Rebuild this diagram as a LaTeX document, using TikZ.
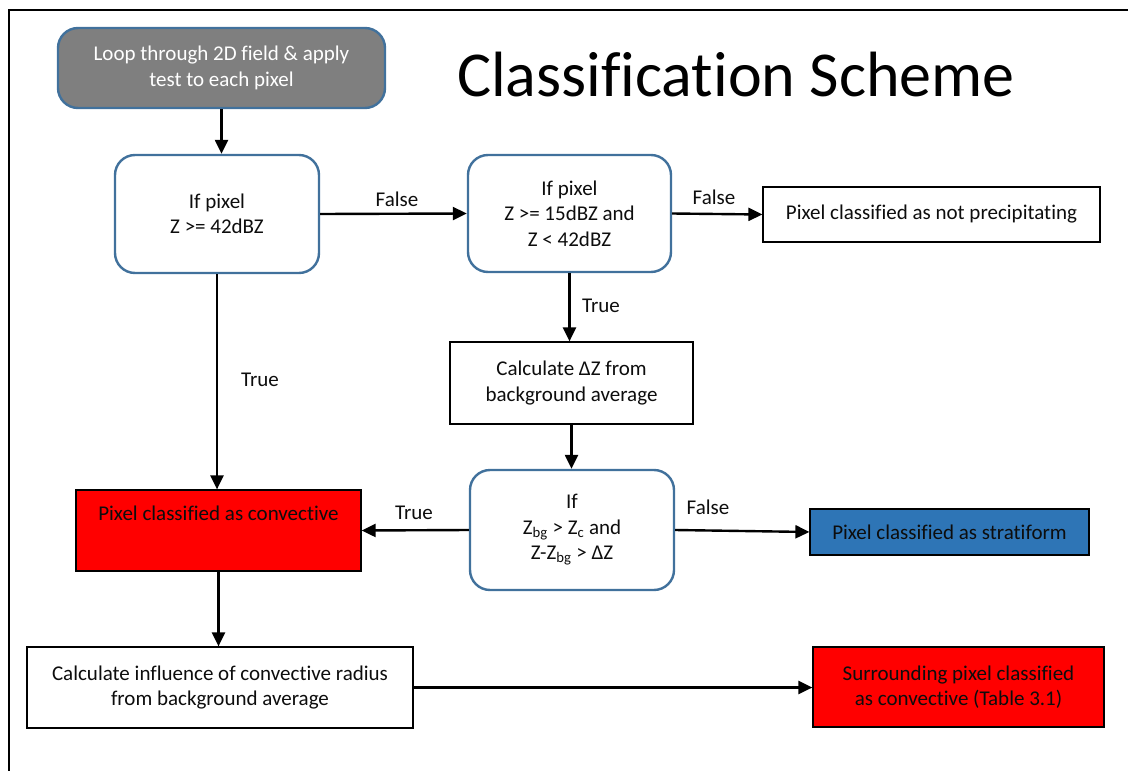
\documentclass[tikz,border=0pt]{standalone}
\usepackage{fontspec}
\setmainfont[Ligatures=NoCommon, RawFeature={-liga;-clig;-calt;-dlig}]{Carlito}
\usetikzlibrary{arrows.meta}
\definecolor{outline}{RGB}{65,113,156}
\definecolor{loopgray}{RGB}{127,127,127}
\definecolor{stratblue}{RGB}{46,117,182}
\definecolor{convred}{RGB}{255,0,0}
\definecolor{ink}{RGB}{13,13,13}
\tikzset{
  boxfont/.style={font=\fontsize{21}{25.5}\selectfont},
  decision/.style={boxfont, align=center, text=ink, draw=outline, line width=2.4pt,
    rounded corners=20pt, fill=white, inner sep=0pt},
  plainbox/.style={boxfont, align=center, text=ink, draw=black, line width=1.2pt,
    fill=white, inner sep=0pt},
  flow/.style={line width=2.4pt, -{Triangle[length=14pt,width=13pt]}},
  lbl/.style={boxfont, text=ink, inner sep=0pt},
}
\begin{document}
\begin{tikzpicture}[x=1pt,y=-1pt]
\useasboundingbox (0,0) rectangle (1128,771);
% page frame
\draw[line width=2.8pt] (9,771) -- (9,10) -- (1128,10);

% title
\node[font=\fontsize{64}{70}\selectfont, inner sep=0pt] (title) at (736,75) {Classification Scheme};

% process boxes
\node[decision, fill=loopgray, text=white, minimum width=327pt, minimum height=80pt]
  (loop) at (221.5,68) {Loop through 2D field \& apply\\test to each pixel};
\node[decision, minimum width=204pt, minimum height=118pt]
  (d1) at (217,214) {If pixel\\Z >= 42dBZ};
\node[decision, minimum width=203pt, minimum height=117pt]
  (d2) at (569.5,213.5) {If pixel\\Z >= 15dBZ and\\Z < 42dBZ};
\node[plainbox, minimum width=337pt, minimum height=55pt]
  (np) at (931.5,214.5) {Pixel classified as not precipitating};
\node[plainbox, minimum width=243pt, minimum height=82pt]
  (dz) at (571.5,383) {Calculate ΔZ from\\background average};
\node[decision, minimum width=204pt, minimum height=120pt]
  (d3) at (572,530) {If\\Z\textsubscript{bg} > Z\textsubscript{c} and\\Z-Z\textsubscript{bg} > ΔZ};
\node[plainbox, fill=stratblue, minimum width=279pt, minimum height=46pt]
  (strat) at (949.5,532) {Pixel classified as stratiform};
\node[plainbox, fill=convred, minimum width=285pt, minimum height=81pt, text depth=34pt]
  (conv) at (218.5,530.5) {Pixel classified as convective};
\node[plainbox, minimum width=386pt, minimum height=81pt]
  (infl) at (220,687.5) {Calculate influence of convective radius\\from background average};
\node[plainbox, fill=convred, minimum width=291pt, minimum height=80pt]
  (surr) at (958.5,687) {Surrounding pixel classified\\as convective (Table 3.1)};

% connectors
\draw[flow] (loop.south) -- (loop.south |- d1.north);
\draw[flow] (d1.east) -- (d2.west);
\draw[flow] (d2.east) -- (np.west);
\draw[flow] (d2.south) -- (d2.south |- dz.north);
\draw[flow] (dz.south) -- (dz.south |- d3.north);
\draw[flow] (d3.west) -- (conv.east);
\draw[flow] (d3.east) -- (strat.west);
\draw[flow] (d1.south) -- (d1.south |- conv.north);
\draw[flow] (conv.south) -- (conv.south |- infl.north);
\draw[flow] (infl.east) -- (infl.east -| surr.west);

% connector labels
\node[lbl] (f1) at (397,199) {False};
\node[lbl] (f2) at (714,197) {False};
\node[lbl] (t1) at (601,306) {True};
\node[lbl] (t2) at (260,380) {True};
\node[lbl] (t3) at (414,513) {True};
\node[lbl] (f3) at (708,507) {False};
\end{tikzpicture}
\end{document}
